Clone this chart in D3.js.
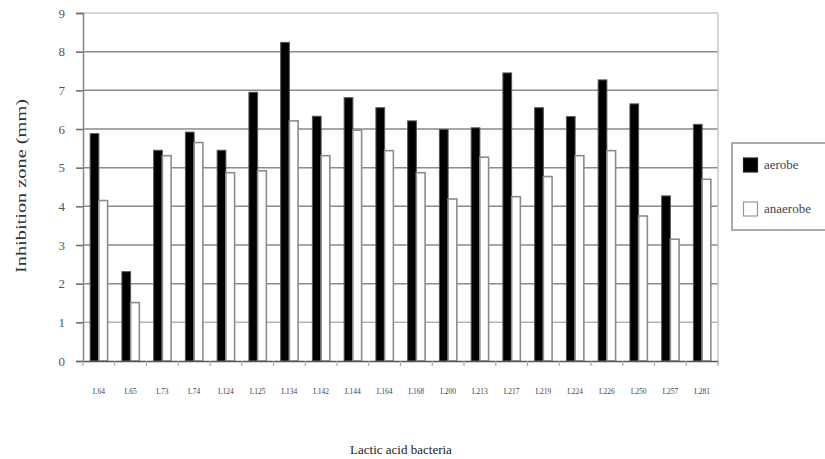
<!DOCTYPE html>
<html><head><meta charset="utf-8">
<script src="https://cdn.jsdelivr.net/npm/d3@7"></script>
<style>body{margin:0;background:#fff}svg{display:block}</style>
</head><body>
<svg id="chart" width="825" height="459"></svg>
<script>
const categories = ["L64","L65","L73","L74","L124","L125","L134","L142","L144","L164","L168","L200","L213","L217","L219","L224","L226","L250","L257","L281"];
const aerobe   = [5.88,2.31,5.45,5.92,5.45,6.95,8.24,6.33,6.81,6.55,6.21,5.99,6.03,7.45,6.55,6.32,7.27,6.65,4.27,6.12];
const anaerobe = [4.15,1.51,5.31,5.65,4.87,4.92,6.21,5.31,5.97,5.44,4.87,4.19,5.27,4.25,4.77,5.31,5.44,3.75,3.15,4.70];
const yTicks = [0,1,2,3,4,5,6,7,8,9];
const seriesNames = ["aerobe","anaerobe"];

const svg = d3.select("#chart");
const L = 83, R = 718, T = 13, B = 361;
const x = d3.scaleBand().domain(categories).range([L, R]).paddingInner(0).paddingOuter(0);
const y = d3.scaleLinear().domain([0, 9]).range([B, T]);
const serif = "'Liberation Serif','DejaVu Serif',serif";

// gridlines
svg.append("g").selectAll("line").data(yTicks.filter(d => d > 0)).join("line")
  .attr("x1", L).attr("x2", R)
  .attr("y1", d => y(d)).attr("y2", d => y(d))
  .attr("stroke", d => d === 9 ? "#c8c8c8" : (d === 1 ? "#b4b4b4" : "#8a8a8a"))
  .attr("stroke-width", 1.5);

// right border
svg.append("line").attr("x1", R).attr("x2", R).attr("y1", T).attr("y2", B)
  .attr("stroke", "#c8c8c8").attr("stroke-width", 1.5);

// bars
const inner = d3.scaleBand().domain(seriesNames).range([0, x.bandwidth()]).paddingOuter(0.82).paddingInner(0);
const g = svg.append("g");
categories.forEach((c, i) => {
  const vals = [aerobe[i], anaerobe[i]];
  seriesNames.forEach((s, j) => {
    const v = vals[j];
    g.append("rect")
      .attr("x", x(c) + inner(s))
      .attr("y", y(v))
      .attr("width", inner.bandwidth())
      .attr("height", y(0) - y(v))
      .attr("fill", j === 0 ? "#000" : "#fff")
      .attr("stroke", j === 0 ? "#555" : "#8c8c8c")
      .attr("stroke-width", j === 0 ? 1 : 1.6);
  });
});

// y axis
const yAxis = svg.append("g").attr("transform", `translate(${L},0)`)
  .call(d3.axisLeft(y).tickValues(yTicks).tickSize(7).tickPadding(11).tickFormat(d3.format("d")));
yAxis.select(".domain").attr("stroke", "#888").attr("stroke-width", 1.5);
yAxis.selectAll(".tick line").attr("stroke", "#666").attr("stroke-width", 1.5);
yAxis.selectAll(".tick text").attr("font-family", serif).attr("font-size", 13).attr("fill", "#555");

// x axis
const xAxis = svg.append("g").attr("transform", `translate(0,${B})`)
  .call(d3.axisBottom(x).tickSize(0).tickPadding(28));
xAxis.select(".domain").attr("stroke", "#555").attr("stroke-width", 1.5);
xAxis.selectAll(".tick text").attr("font-family", serif).attr("font-size", 7.5).attr("fill", "#444");
// boundary ticks
svg.append("g").selectAll("line").data(categories.concat(["_end"])).join("line")
  .attr("x1", (d, i) => L + i * x.bandwidth()).attr("x2", (d, i) => L + i * x.bandwidth())
  .attr("y1", B).attr("y2", B + 5)
  .attr("stroke", "#aaa").attr("stroke-width", 1.2);

// axis titles
svg.append("text").attr("transform", "translate(26,186) rotate(-90)")
  .attr("text-anchor", "middle").attr("font-family", serif).attr("font-size", 14)
  .attr("fill", "#333").attr("textLength", 174).attr("lengthAdjust", "spacingAndGlyphs")
  .text("Inhibition zone (mm)");
svg.append("text").attr("x", 401).attr("y", 454)
  .attr("text-anchor", "middle").attr("font-family", serif).attr("font-size", 13)
  .attr("fill", "#222").text("Lactic acid bacteria");

// legend
const lg = svg.append("g");
lg.append("rect").attr("x", 732).attr("y", 143).attr("width", 110).attr("height", 87)
  .attr("fill", "#fff").attr("stroke", "#aaa").attr("stroke-width", 2);
seriesNames.forEach((s, j) => {
  const yy = 158 + j * 44;
  lg.append("rect").attr("x", 743.5).attr("y", yy).attr("width", 14).attr("height", 14)
    .attr("fill", j === 0 ? "#000" : "#fff").attr("stroke", j === 0 ? "#222" : "#999").attr("stroke-width", 1.2);
  lg.append("text").attr("x", 764).attr("y", yy + 11).attr("font-family", serif)
    .attr("font-size", 13).attr("fill", "#444").text(s);
});
</script>
</body></html>
